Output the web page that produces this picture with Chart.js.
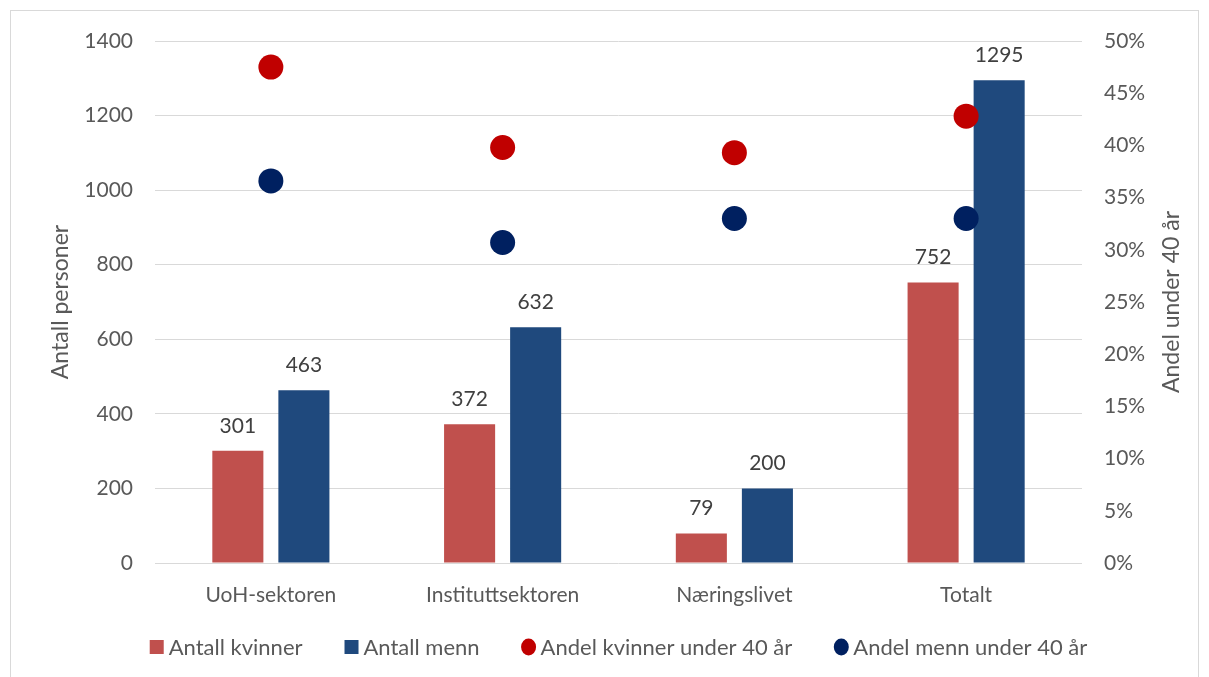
<!DOCTYPE html>
<html>
<head>
<meta charset="utf-8">
<script src="https://cdn.jsdelivr.net/npm/chart.js@4"></script>
<style>
  body { margin: 0; background: #fff; }
  #frame { position: absolute; left: 10px; top: 10px; width: 1187px; height: 700px; border: 1px solid #D9D9D9; }
  #wrap { position: absolute; left: 0; top: 0; width: 1209px; height: 677px; }
</style>
</head>
<body>
<div id="frame"></div>
<div id="wrap"><canvas id="myChart" width="1209" height="677"></canvas></div>
<script>
// categories and values
const sektorer = ['UoH-sektoren', 'Instituttsektoren', 'Næringslivet', 'Totalt'];
const antallKvinner = [301, 372, 79, 752];
const antallMenn = [463, 632, 200, 1295];
const andelKvinner = [0.475, 0.398, 0.393, 0.428];
const andelMenn = [0.366, 0.307, 0.330, 0.330];

const FONT = 'Lato';
const TEXT = '#595959';

// values above the bars, right axis title, and the legend row
const extras = {
  id: 'extras',
  afterDatasetsDraw(chart) {
    const ctx = chart.ctx;
    ctx.save();
    ctx.font = '21px ' + FONT;
    ctx.fillStyle = '#404040';
    ctx.textAlign = 'center';
    ctx.textBaseline = 'middle';
    chart.data.datasets.forEach((ds, i) => {
      if (ds.type !== 'bar') return;
      chart.getDatasetMeta(i).data.forEach((bar, j) => {
        ctx.fillText(ds.data[j], bar.x, bar.y - 25);
      });
    });
    ctx.restore();
  },
  afterDraw(chart) {
    const ctx = chart.ctx;
    const area = chart.chartArea;
    ctx.save();
    // right axis title reads bottom to top
    ctx.font = '23px ' + FONT;
    ctx.fillStyle = TEXT;
    ctx.textAlign = 'center';
    ctx.textBaseline = 'middle';
    ctx.translate(1172, (area.top + area.bottom) / 2);
    ctx.rotate(-Math.PI / 2);
    ctx.fillText('Andel under 40 år', 0, 0);
    ctx.restore();

    // legend
    ctx.save();
    ctx.font = '22px ' + FONT;
    ctx.textBaseline = 'middle';
    ctx.textAlign = 'left';
    const box = 14, gapText = 5, gapItem = 42, y = 647;
    const items = chart.data.datasets.map(ds => ({
      label: ds.label, color: ds.backgroundColor, round: ds.type !== 'bar',
      w: box + gapText + ctx.measureText(ds.label).width
    }));
    const total = items.reduce((s, it) => s + it.w, 0) + gapItem * (items.length - 1);
    let x = (area.left + area.right) / 2 - total / 2;
    items.forEach(it => {
      ctx.fillStyle = it.color;
      if (it.round) {
        ctx.beginPath();
        ctx.ellipse(x + box / 2, y, 7.5, 8.5, 0, 0, Math.PI * 2);
        ctx.fill();
      } else {
        ctx.fillRect(x, y - box / 2, box, box);
      }
      ctx.fillStyle = TEXT;
      ctx.fillText(it.label, x + box + gapText, y + 1);
      x += it.w + gapItem;
    });
    ctx.restore();
  }
};

const data = {
  labels: sektorer,
  datasets: [
    { type: 'bar', label: 'Antall kvinner', data: antallKvinner, backgroundColor: '#C0504D', yAxisID: 'y', order: 2 },
    { type: 'bar', label: 'Antall menn', data: antallMenn, backgroundColor: '#1F497D', yAxisID: 'y', order: 2 },
    { type: 'line', label: 'Andel kvinner under 40 år', data: andelKvinner, showLine: false, yAxisID: 'y1', order: 1,
      pointRadius: 12.5, pointBackgroundColor: '#C00000', pointBorderColor: '#C00000', borderColor: '#C00000', backgroundColor: '#C00000', pointBorderWidth: 0 },
    { type: 'line', label: 'Andel menn under 40 år', data: andelMenn, showLine: false, yAxisID: 'y1', order: 1,
      pointRadius: 12.5, pointBackgroundColor: '#002060', pointBorderColor: '#002060', borderColor: '#002060', backgroundColor: '#002060', pointBorderWidth: 0 }
  ]
};

const config = {
  type: 'bar',
  data: data,
  plugins: [extras],
  options: {
    responsive: false,
    animation: false,
    datasets: { bar: { categoryPercentage: 0.57, barPercentage: 0.773 } },
    layout: { padding: { top: 41, left: 0, right: 0, bottom: 66 } },
    plugins: {
      tooltip: { enabled: false },
      legend: { display: false }
    },
    scales: {
      x: {
        grid: { display: false },
        border: { display: false },
        ticks: { font: { family: FONT, size: 21 }, color: TEXT, padding: 12 },
        afterFit(scale) { scale.height = 48; }
      },
      y: {
        position: 'left',
        min: 0, max: 1400,
        ticks: { stepSize: 200, font: { family: FONT, size: 21 }, color: TEXT, padding: 22,
          callback: v => String(v) },
        grid: { color: '#D9D9D9', drawTicks: false },
        border: { display: false },
        title: { display: true, text: 'Antall personer', font: { family: FONT, size: 23 }, color: TEXT, padding: { top: 47, bottom: 0 } },
        afterFit(scale) { scale.width = 155; }
      },
      y1: {
        position: 'right',
        min: 0, max: 0.5,
        ticks: { stepSize: 0.05, font: { family: FONT, size: 21 }, color: TEXT, padding: 22,
          callback: v => Math.round(v * 100) + '%' },
        grid: { display: false, drawTicks: false },
        border: { display: false },
        afterFit(scale) { scale.width = 127; }
      }
    }
  }
};

const myChart = new Chart(document.getElementById('myChart'), config);
</script>
</body>
</html>
